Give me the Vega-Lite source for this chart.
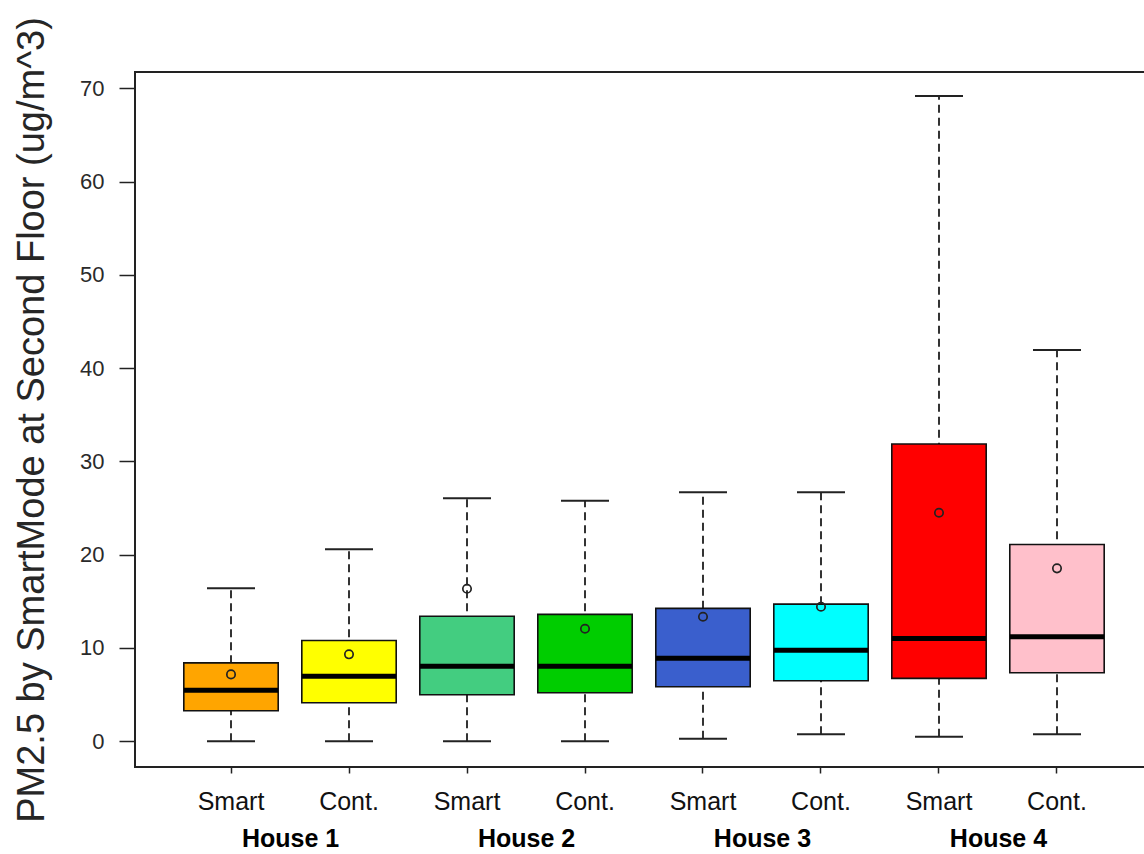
{
  "$schema": "https://vega.github.io/schema/vega-lite/v6.json",
  "width": 1018,
  "height": 695,
  "autosize": "none",
  "padding": {"left": 135, "top": 72, "right": 0, "bottom": 87},
  "background": "#ffffff",
  "config": {
    "view": {"stroke": "#222222", "strokeWidth": 2},
    "font": "Liberation Sans"
  },
  "datasets": {
    "boxes": [
      {"group": "H1 Smart", "house": "House 1", "mode": "Smart", "lower": 0, "q1": 3.27, "median": 5.46, "q3": 8.4, "upper": 16.4, "mean": 7.17},
      {"group": "H1 Cont.", "house": "House 1", "mode": "Cont.", "lower": 0, "q1": 4.13, "median": 6.96, "q3": 10.8, "upper": 20.6, "mean": 9.32},
      {"group": "H2 Smart", "house": "House 2", "mode": "Smart", "lower": 0, "q1": 4.99, "median": 8.03, "q3": 13.4, "upper": 26.05, "mean": 16.35},
      {"group": "H2 Cont.", "house": "House 2", "mode": "Cont.", "lower": 0, "q1": 5.2, "median": 8.03, "q3": 13.6, "upper": 25.8, "mean": 12.06},
      {"group": "H3 Smart", "house": "House 3", "mode": "Smart", "lower": 0.27, "q1": 5.84, "median": 8.89, "q3": 14.25, "upper": 26.7, "mean": 13.35},
      {"group": "H3 Cont.", "house": "House 3", "mode": "Cont.", "lower": 0.74, "q1": 6.49, "median": 9.75, "q3": 14.7, "upper": 26.7, "mean": 14.42},
      {"group": "H4 Smart", "house": "House 4", "mode": "Smart", "lower": 0.48, "q1": 6.74, "median": 11.03, "q3": 31.87, "upper": 69.2, "mean": 24.5},
      {"group": "H4 Cont.", "house": "House 4", "mode": "Cont.", "lower": 0.74, "q1": 7.35, "median": 11.2, "q3": 21.1, "upper": 41.95, "mean": 18.54}
    ],
    "houses": [
      {"house": "House 1"},
      {"house": "House 2"},
      {"house": "House 3"},
      {"house": "House 4"}
    ]
  },
  "layer": [
    {
      "data": {"name": "boxes"},
      "encoding": {
        "x": {
          "field": "group",
          "type": "nominal",
          "sort": null,
          "scale": {"type": "band", "paddingInner": 0.2, "paddingOuter": 0.4136},
          "axis": {
            "title": null,
            "labelExpr": "split(datum.value, ' ')[1]",
            "labelAngle": 0,
            "labelFont": "Liberation Sans",
            "labelFontSize": 25,
            "labelColor": "#111111",
            "labelPadding": 16,
            "tickSize": 6,
            "tickColor": "#222222",
            "tickWidth": 1.5,
            "domain": false,
            "grid": false
          }
        }
      },
      "layer": [
        {
          "mark": {"type": "rule", "strokeDash": [8, 5], "strokeWidth": 2, "color": "#333333"},
          "encoding": {
            "y": {
              "field": "lower",
              "type": "quantitative",
              "scale": {"domain": [-2.76, 71.76], "nice": false, "zero": false},
              "axis": {
                "values": [0, 10, 20, 30, 40, 50, 60, 70],
                "title": "PM2.5 by SmartMode at Second Floor (ug/m^3)",
                "titleFont": "Liberation Sans",
                "titleFontSize": 38,
                "titleFontWeight": "normal",
                "titleColor": "#262626",
                "titlePadding": 28,
                "labelFont": "Liberation Sans",
                "labelFontSize": 22,
                "labelColor": "#2a2a2a",
                "labelPadding": 15,
                "tickSize": 16,
                "tickColor": "#222222",
                "tickWidth": 1.5,
                "domain": false,
                "grid": false
              }
            },
            "y2": {"field": "upper"}
          }
        },
        {
          "mark": {"type": "tick", "size": 48, "thickness": 2, "color": "#222222", "opacity": 1},
          "encoding": {"y": {"field": "upper", "type": "quantitative"}}
        },
        {
          "mark": {"type": "tick", "size": 48, "thickness": 2, "color": "#222222", "opacity": 1},
          "encoding": {"y": {"field": "lower", "type": "quantitative"}}
        },
        {
          "mark": {"type": "bar", "stroke": "#111111", "strokeWidth": 1.6, "opacity": 1},
          "encoding": {
            "y": {"field": "q1", "type": "quantitative"},
            "y2": {"field": "q3"},
            "color": {
              "field": "group",
              "type": "nominal",
              "legend": null,
              "scale": {
                "domain": ["H1 Smart", "H1 Cont.", "H2 Smart", "H2 Cont.", "H3 Smart", "H3 Cont.", "H4 Smart", "H4 Cont."],
                "range": ["#FFA500", "#FFFF00", "#43CD80", "#00CD00", "#3A5FCD", "#00FFFF", "#FF0000", "#FFC0CB"]
              }
            }
          }
        },
        {
          "mark": {"type": "tick", "size": 94, "thickness": 5, "color": "#000000", "opacity": 1},
          "encoding": {"y": {"field": "median", "type": "quantitative"}}
        },
        {
          "mark": {"type": "point", "shape": "circle", "filled": false, "size": 70, "strokeWidth": 1.7, "color": "#222222", "opacity": 1},
          "encoding": {"y": {"field": "mean", "type": "quantitative"}}
        }
      ]
    },
    {
      "data": {"name": "houses"},
      "mark": {"type": "point", "opacity": 0},
      "encoding": {
        "x": {
          "field": "house",
          "type": "nominal",
          "sort": null,
          "scale": {"type": "point", "padding": 0.657},
          "axis": {
            "orient": "bottom",
            "offset": 59,
            "title": null,
            "labelAngle": 0,
            "labelFont": "Liberation Sans",
            "labelFontSize": 25,
            "labelFontWeight": "bold",
            "labelColor": "#000000",
            "labelPadding": 0,
            "ticks": false,
            "tickSize": 0,
            "domain": false,
            "grid": false
          }
        }
      }
    }
  ],
  "resolve": {"scale": {"x": "independent"}, "axis": {"x": "independent"}}
}
